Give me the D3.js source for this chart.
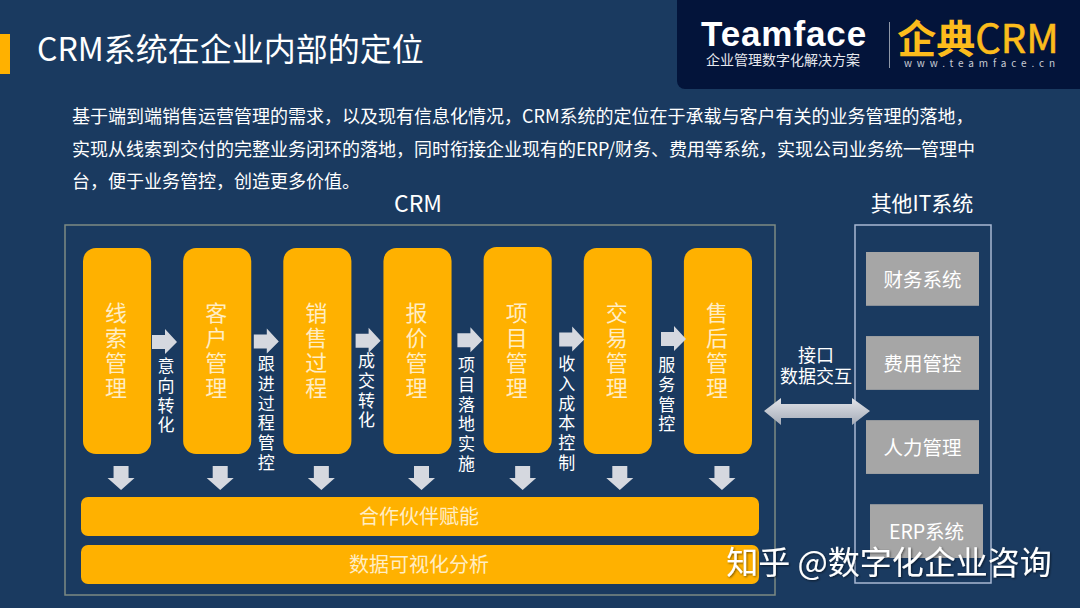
<!DOCTYPE html>
<html>
<head>
<meta charset="utf-8">
<script src="https://cdn.jsdelivr.net/npm/d3@7/dist/d3.min.js"></script>
<style>
  html, body { margin: 0; padding: 0; background: #1a3a60; }
  svg { display: block; }
  text { font-family: "Noto Sans CJK SC", "Noto Sans", sans-serif; }
</style>
</head>
<body>
<script>
var titleText = "CRM系统在企业内部的定位";
var introLines = [
  "基于端到端销售运营管理的需求，以及现有信息化情况，CRM系统的定位在于承载与客户有关的业务管理的落地，",
  "实现从线索到交付的完整业务闭环的落地，同时衔接企业现有的ERP/财务、费用等系统，实现公司业务统一管理中",
  "台，便于业务管控，创造更多价值。"
];
var stages = [ "线索管理", "客户管理", "销售过程", "报价管理", "项目管理", "交易管理", "售后管理" ];
var links = [ "意向转化", "跟进过程管控", "成交转化", "项目落地实施", "收入成本控制", "服务管控" ];
var layers = [ "合作伙伴赋能", "数据可视化分析" ];
var systems = [ "财务系统", "费用管控", "人力管理", "ERP系统" ];

var width = 1080, height = 608;
var GOLD = "#ffb100", ARROW = "#d5d8df", STAGE_TEXT = "#ffedc4";
var DY = "-0.09em"; // central baseline of the CJK font sits a bit low

var svg = d3.select( "body" ).append( "svg" ).attr( "width", width ).attr( "height", height );
svg.append( "rect" ).attr( "width", width ).attr( "height", height ).attr( "fill", "#1a3a60" );

var defs = svg.append( "defs" );
var grad = defs.append( "linearGradient" ).attr( "id", "swap" ).attr( "x1", 0 ).attr( "y1", 0 ).attr( "x2", 0 ).attr( "y2", 1 );
grad.append( "stop" ).attr( "offset", "0%" ).attr( "stop-color", "#e2e4e9" );
grad.append( "stop" ).attr( "offset", "100%" ).attr( "stop-color", "#a4abb8" );
var shadow = defs.append( "filter" ).attr( "id", "mark" ).attr( "x", "-5%" ).attr( "y", "-20%" ).attr( "width", "110%" ).attr( "height", "140%" );
shadow.append( "feDropShadow" ).attr( "dx", 1 ).attr( "dy", 1 ).attr( "stdDeviation", 1.2 )
  .attr( "flood-color", "#000" ).attr( "flood-opacity", 0.55 );

function label( parent, text, x, y, size, fill, anchor ) {
  return parent.append( "text" ).text( text )
    .attr( "x", x ).attr( "y", y ).attr( "dy", DY )
    .attr( "font-size", size ).attr( "fill", fill )
    .attr( "text-anchor", anchor || "middle" )
    .attr( "dominant-baseline", "central" );
}

// text stacked one glyph under the other
function stacked( parent, text, x, y0, step, size, fill ) {
  parent.append( "g" ).selectAll( "text" ).data( Array.from( text ) ).join( "text" )
    .text( function( d ) { return d; } )
    .attr( "x", x )
    .attr( "y", function( d, i ) { return y0 + i * step; } )
    .attr( "dy", DY )
    .attr( "font-size", size ).attr( "fill", fill )
    .attr( "text-anchor", "middle" )
    .attr( "dominant-baseline", "central" );
}

// HEADER

svg.append( "rect" ).attr( "x", 0 ).attr( "y", 34 ).attr( "width", 10 ).attr( "height", 40 ).attr( "fill", GOLD );
label( svg, titleText, 37, 50, 32, "#fff", "start" );

var logo = svg.append( "g" );
logo.append( "rect" ).attr( "x", 677 ).attr( "y", -10 ).attr( "width", 420 ).attr( "height", 99 ).attr( "rx", 8 ).attr( "fill", "#03143a" );
label( logo, "Teamface", 784, 37, 35, "#fff" )
  .style( "font-family", "'Liberation Sans', sans-serif" ).attr( "font-weight", 700 ).attr( "letter-spacing", 0.9 );
label( logo, "企业管理数字化解决方案", 783, 60, 14, "#e6e8ee" );
logo.append( "line" ).attr( "x1", 889.5 ).attr( "x2", 889.5 ).attr( "y1", 22 ).attr( "y2", 68 ).attr( "stroke", "#8f98a8" );
var brand = label( logo, "", 978, 40, 39, "#fcbc1c" );
brand.append( "tspan" ).text( "企典" ).attr( "font-weight", 700 );
brand.append( "tspan" ).text( "CRM" ).attr( "font-size", 40 )
  .attr( "stroke", "#fcbc1c" ).attr( "stroke-width", 0.6 );
label( logo, "www.teamface.cn", 982, 63, 10, "#c9ccd4" ).attr( "letter-spacing", 4.9 );

svg.append( "g" ).selectAll( "text" ).data( introLines ).join( "text" )
  .text( function( d ) { return d; } )
  .attr( "x", 72 )
  .attr( "y", function( d, i ) { return 117 + i * 32.5; } )
  .attr( "dy", DY )
  .attr( "font-size", 18 ).attr( "fill", "#fff" )
  .attr( "dominant-baseline", "central" );

// CRM FRAME

label( svg, "CRM", 418, 204, 23, "#fff" );
label( svg, "其他IT系统", 922, 204, 21, "#fff" );
svg.append( "rect" ).attr( "x", 65 ).attr( "y", 225 ).attr( "width", 710 ).attr( "height", 370 )
  .attr( "fill", "none" ).attr( "stroke", "#7d8a82" ).attr( "stroke-width", 1.5 );

var x = d3.scaleBand().domain( stages ).range( [ 83, 752 ] ).paddingInner( 0.32 );
var arrowNudge = [ 4, 3, 4, 4, 5, 2, 4 ];

var cols = svg.append( "g" ).selectAll( "g" ).data( stages ).join( "g" )
  .attr( "transform", function( d ) { return "translate(" + x( d ) + ",0)"; } );
cols.append( "rect" )
  .attr( "y", function( d, i ) { return i === 4 ? 247 : 248; } )
  .attr( "width", x.bandwidth() ).attr( "height", 206 ).attr( "rx", 13 )
  .attr( "fill", GOLD );
cols.each( function( d ) {
  stacked( d3.select( this ), d, x.bandwidth() / 2 - 1, 312.5, 25.2, 22, STAGE_TEXT );
} );
// down arrow under each stage
cols.append( "path" )
  .attr( "d", function( d, i ) {
    var c = x.bandwidth() / 2 + arrowNudge[ i ];
    return d3.line()( [ [ c - 7.5, 466 ], [ c + 7.5, 466 ], [ c + 7.5, 478 ], [ c + 13.5, 478 ], [ c, 490 ],
      [ c - 13.5, 478 ], [ c - 7.5, 478 ] ] ) + "Z";
  } )
  .attr( "fill", ARROW );

// right arrows and their captions between the stages
var arrowX = d3.scalePoint().domain( links ).range( [ 152, 661 ] );
var arrowY = d3.scaleLinear().domain( [ 0, links.length - 1 ] ).range( [ 342, 339 ] );
var captionTop = [ 366, 364, 361, 365, 364, 365 ];

svg.append( "g" ).selectAll( "path" ).data( links ).join( "path" )
  .attr( "transform", function( d, i ) { return "translate(" + arrowX( d ) + "," + arrowY( i ) + ")"; } )
  .attr( "d", d3.line()( [ [ 0, -7 ], [ 13, -7 ], [ 13, -13 ], [ 25, 0 ], [ 13, 12 ], [ 13, 7 ], [ 0, 7 ] ] ) + "Z" )
  .attr( "fill", ARROW );
svg.append( "g" ).selectAll( "g" ).data( links ).join( "g" )
  .attr( "transform", function( d, i ) { return "translate(" + ( x( stages[ i ] ) + x.bandwidth() ) + ",0)"; } )
  .each( function( d, i ) {
    stacked( d3.select( this ), d, 15, captionTop[ i ], 19.8, 17, "#fff" );
  } );

var layerY = d3.scaleBand().domain( layers ).range( [ 497, 584 ] ).paddingInner( 0.1875 );
var layerRows = svg.append( "g" ).selectAll( "g" ).data( layers ).join( "g" );
layerRows.append( "rect" )
  .attr( "x", 81 ).attr( "y", function( d ) { return layerY( d ); } )
  .attr( "width", 678 ).attr( "height", layerY.bandwidth() ).attr( "rx", 7 )
  .attr( "fill", GOLD );
layerRows.append( "text" ).text( function( d ) { return d; } )
  .attr( "x", 419 ).attr( "y", function( d ) { return layerY( d ) + layerY.bandwidth() / 2 + 1; } )
  .attr( "dy", DY )
  .attr( "font-size", 20 ).attr( "fill", STAGE_TEXT )
  .attr( "text-anchor", "middle" ).attr( "dominant-baseline", "central" );

// IT SYSTEMS

svg.append( "rect" ).attr( "x", 855 ).attr( "y", 225 ).attr( "width", 136 ).attr( "height", 358 )
  .attr( "fill", "none" ).attr( "stroke", "#a9b8d2" ).attr( "stroke-width", 1.5 );

var sysY = d3.scaleBand().domain( systems ).range( [ 252, 558 ] ).paddingInner( 0.36 );
var sysRows = svg.append( "g" ).selectAll( "g" ).data( systems ).join( "g" )
  .attr( "transform", function( d, i ) { return "translate(" + ( i === 3 ? 870 : 866 ) + "," + sysY( d ) + ")"; } );
sysRows.append( "rect" ).attr( "width", 113 ).attr( "height", sysY.bandwidth() ).attr( "fill", "#a6a6a6" );
sysRows.append( "text" ).text( function( d ) { return d; } )
  .attr( "x", 56.5 ).attr( "y", sysY.bandwidth() / 2 + 1 )
  .attr( "dy", DY )
  .attr( "font-size", 19.5 ).attr( "fill", "#fff" )
  .attr( "text-anchor", "middle" ).attr( "dominant-baseline", "central" );

// INTERFACE

label( svg, "接口", 816, 356, 18, "#fff" );
label( svg, "数据交互", 816, 377, 18, "#fff" );
svg.append( "path" )
  .attr( "d", d3.line()( [ [ 764, 411 ], [ 781, 398 ], [ 781, 404 ], [ 852, 404 ], [ 852, 398 ], [ 870, 411 ],
    [ 852, 425 ], [ 852, 418 ], [ 781, 418 ], [ 781, 425 ] ] ) + "Z" )
  .attr( "fill", "url(#swap)" );

// WATERMARK

label( svg, "知乎 @数字化企业咨询", 889, 563, 32, "#fff" ).attr( "filter", "url(#mark)" );
</script>
</body>
</html>
